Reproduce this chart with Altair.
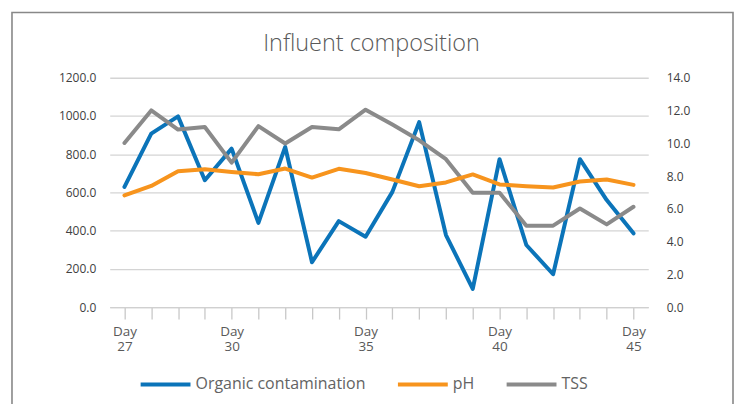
import altair as alt
import pandas as pd

# ---- data ----
categories = ["Day 27", "", "", "", "Day 30", "", "", "", "", "Day 35",
              "", "", "", "", "Day 40", "", "", "", "", "Day 45"]
organic = [629, 908, 998, 664, 829, 441, 838, 235, 450, 368,
           603, 968, 377, 95, 774, 325, 172, 774, 560, 386]
ph = [6.82, 7.40, 8.30, 8.42, 8.25, 8.11, 8.46, 7.91, 8.44, 8.19,
      7.79, 7.38, 7.61, 8.10, 7.49, 7.38, 7.30, 7.67, 7.79, 7.46]
tss = [859, 1029, 929, 942, 756, 947, 856, 942, 930, 1033,
       955, 873, 774, 598, 598, 426, 426, 516, 433, 525]

series_names = ["Organic contamination", "pH", "TSS"]
series_colors = ["#0b74b9", "#f7941d", "#8a8a8a"]

rows_left = []
for i in range(len(categories)):
    rows_left.append({"idx": i, "series": "Organic contamination", "value": organic[i]})
for i in range(len(categories)):
    rows_left.append({"idx": i, "series": "TSS", "value": tss[i]})
left_df = pd.DataFrame(rows_left)
right_df = pd.DataFrame({"idx": list(range(len(categories))),
                         "series": ["pH"] * len(categories),
                         "value": ph})

# label expression: two-line labels for named categories
parts = []
for c in categories:
    if c:
        a, b = c.split(" ")
        parts.append("['%s','%s']" % (a, b))
    else:
        parts.append("''")
label_expr = "[" + ",".join(parts) + "][datum.value]"

FONT = "Open Sans"

xenc = alt.X("idx:Q",
             scale=alt.Scale(domain=[-0.55, len(categories) - 0.45], nice=False, zero=False),
             axis=alt.Axis(values=list(range(len(categories))), labelExpr=label_expr,
                           title=None, grid=False, domainColor="#d0d0d0", domainWidth=1.3,
                           tickColor="#c8c8c8", tickWidth=1.3, tickSize=12,
                           labelPadding=5, labelFontSize=13.5, labelColor="#595959",
                           labelFont=FONT, labelLineHeight=16, labelBaseline="top"))

color = alt.Color("series:N",
                  scale=alt.Scale(domain=series_names, range=series_colors),
                  legend=alt.Legend(orient="none", legendX=29, legendY=280.6,
                                    direction="horizontal", title=None,
                                    symbolType="stroke", symbolSize=2500,
                                    symbolStrokeWidth=4, labelFontSize=16,
                                    labelColor="#636363", labelFont=FONT,
                                    labelLimit=400, columnPadding=24, labelOffset=3))

left_lines = alt.Chart(left_df).mark_line(strokeWidth=4, strokeJoin="round", strokeCap="round").encode(
    x=xenc,
    y=alt.Y("value:Q", scale=alt.Scale(domain=[0, 1200], nice=False),
            axis=alt.Axis(orient="left", values=[0, 200, 400, 600, 800, 1000, 1200],
                          format=".1f", title=None, domain=False, ticks=False,
                          grid=True, gridColor="#d4d4d4", gridWidth=1.3,
                          labelPadding=14, labelFontSize=12, labelColor="#404040",
                          labelFont=FONT)),
    color=color,
    detail="series:N",
)

right_line = alt.Chart(right_df).mark_line(strokeWidth=4, strokeJoin="round", strokeCap="round").encode(
    x=xenc,
    y=alt.Y("value:Q", scale=alt.Scale(domain=[0, 14], nice=False),
            axis=alt.Axis(orient="right", values=[0, 2, 4, 6, 8, 10, 12, 14],
                          format=".1f", title=None, domain=False, ticks=False,
                          grid=False, labelPadding=18, labelFontSize=12,
                          labelColor="#404040", labelFont=FONT)),
    color=color,
)

one = pd.DataFrame({"a": [0]})
border = alt.Chart(one).mark_rect(fill=None, stroke="#888888", strokeWidth=1.6).encode(
    x=alt.value(-98), x2=alt.value(625), y=alt.value(-65.4), y2=alt.value(420))

title = alt.Chart(one).mark_text(text="Influent composition", font=FONT, fontSize=23.5,
                                 fontWeight=300, color="#595959", align="center",
                                 baseline="alphabetic").encode(
    x=alt.value(262.5), y=alt.value(-26.4))

chart = alt.layer(border, title, left_lines, right_line).resolve_scale(
    y="independent").properties(
    width=540, height=230,
    padding={"left": 102, "top": 69.4, "right": 86, "bottom": 96.6},
    autosize=alt.AutoSizeParams(type="none"),
    background="white",
).configure_view(stroke=None)

chart.save("out.html", embed_options={"renderer": "svg", "actions": False})
